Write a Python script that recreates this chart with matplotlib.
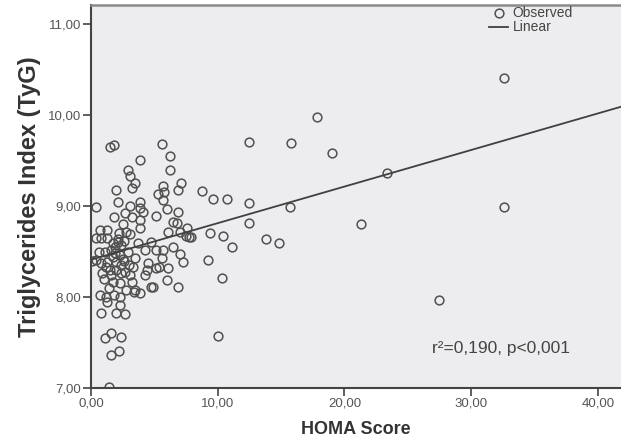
import matplotlib
matplotlib.use("Agg")
import matplotlib.pyplot as plt
from matplotlib.ticker import FuncFormatter
import numpy as np

plt.rcParams['font.family'] = ['Liberation Sans', 'DejaVu Sans']

# (HOMA score, TyG index)
homa = [
    32.6, 17.8, 15.8, 12.5, 19.0, 23.4, 15.7, 32.6, 21.3, 13.8, 14.8, 27.5, 10.0,
    12.5, 12.5, 11.1, 10.3, 10.4, 10.7, 9.6, 8.8, 9.4, 9.2,
    7.1, 6.9, 6.9, 6.8, 7.6, 7.0, 7.7, 7.9, 7.5, 7.0, 7.3, 6.9, 6.0, 5.6, 6.2,
    6.2, 5.7, 5.8, 5.3, 5.7, 6.0, 5.1, 6.1, 6.5, 5.7, 6.5, 5.1, 5.6, 5.4, 6.1,
    5.1, 4.9,
    3.9, 2.9, 3.1, 3.5, 3.2, 3.9, 3.1, 3.9, 4.1, 3.2, 3.9, 3.9, 3.1, 3.7, 4.7,
    4.3, 3.5, 3.3, 4.5, 3.1, 4.3, 3.2, 4.7, 3.5, 3.9, 4.4,
    1.5, 1.8, 2.0, 2.1, 2.7, 0.4, 0.7, 1.3, 0.8, 0.4, 1.3, 2.8, 1.7, 2.4, 1.6,
    1.7, 2.3, 0.4, 0.8, 1.3, 2.0, 2.4, 0.9, 1.6, 2.4, 1.7, 2.3, 2.8, 0.7, 1.2,
    2.3, 1.3, 2.3, 0.8, 2.0, 2.7, 1.6, 1.1, 2.4, 2.2, 1.6, 1.4,
    2.6, 1.9, 2.9, 2.0, 1.1, 2.2, 2.6, 1.8, 2.5, 1.5, 2.1,
    0.1, 1.0, 1.9, 2.5, 3.0, 1.4, 2.1, 2.7, 1.2, 3.4, 0.6, 1.8,
]
tyg = [
    10.41, 9.98, 9.69, 9.70, 9.58, 9.36, 8.99, 8.99, 8.80, 8.64, 8.59, 7.97, 7.57,
    9.03, 8.81, 8.55, 8.21, 8.67, 9.08, 9.08, 9.16, 8.70, 8.41,
    9.25, 9.18, 8.93, 8.81, 8.76, 8.71, 8.66, 8.66, 8.67, 8.47, 8.38, 8.11, 8.19, 9.68, 9.55,
    9.40, 9.22, 9.15, 9.13, 9.07, 8.97, 8.89, 8.71, 8.82, 8.52, 8.55, 8.52, 8.43, 8.33, 8.32,
    8.32, 8.11,
    9.51, 9.40, 9.33, 9.25, 9.20, 9.04, 9.00, 8.98, 8.94, 8.88, 8.85, 8.76, 8.69, 8.59, 8.60,
    8.52, 8.43, 8.33, 8.37, 8.24, 8.24, 8.16, 8.11, 8.08, 8.04, 8.30,
    9.65, 9.67, 9.18, 9.05, 8.92, 8.99, 8.74, 8.74, 8.65, 8.65, 8.65, 8.71, 8.59, 8.57, 8.52,
    8.44, 8.46, 8.41, 8.37, 8.38, 8.38, 8.35, 8.26, 8.24, 8.26, 8.16, 8.15, 8.08, 8.02, 8.00,
    8.00, 7.95, 7.91, 7.82, 7.82, 7.81, 7.60, 7.55, 7.56, 7.41, 7.36, 7.01,
    8.62, 8.48, 8.50, 8.30, 8.50, 8.70, 8.40, 8.88, 8.80, 8.30, 8.60,
    8.40, 8.20, 8.55, 8.42, 8.35, 8.10, 8.64, 8.28, 8.33, 8.05, 8.50, 8.02,
]

# linear fit as drawn in the chart
fit_intercept = 8.41
fit_slope = 0.0402
r2_text = 'r²=0,190, p<0,001'

x_ticks = [0, 10, 20, 30, 40]
y_ticks = [7, 8, 9, 10, 11]

fig = plt.figure(figsize=(6.21, 4.41), dpi=100)
ax = fig.add_axes([91 / 621, 53 / 441, 530 / 621, 383 / 441])
ax.set_facecolor('#ededef')

ax.plot(homa, tyg, 'o', ms=6.3, mfc='none', mec='#505050', mew=1.1, label='Observed')

xfit = np.array([0, 41.83])
ax.plot(xfit, fit_intercept + fit_slope * xfit, color='#404040', lw=1.3, label='Linear')

ax.set_xlim(0, 41.83)
ax.set_ylim(7, 11.21)
ax.set_xticks(x_ticks)
ax.set_yticks(y_ticks)
comma = FuncFormatter(lambda v, p: f'{v:.2f}'.replace('.', ','))
ax.xaxis.set_major_formatter(comma)
ax.yaxis.set_major_formatter(comma)
ax.tick_params(direction='out', length=6, width=1.2, color='#444444',
               labelsize=9.5, labelcolor='#555555', pad=1)

for s in ['left', 'bottom']:
    ax.spines[s].set_color('#444444')
    ax.spines[s].set_linewidth(1.5)
ax.spines['top'].set_color('#8a8a8a')
ax.spines['top'].set_linewidth(1.8)
ax.spines['right'].set_visible(False)

ax.set_xlabel('HOMA Score', fontsize=13, fontweight='bold', color='#333333', labelpad=8)
ax.set_ylabel('Triglycerides Index (TyG)', fontsize=17, fontweight='bold',
              color='#333333', labelpad=5)

ax.legend(loc='upper left', bbox_to_anchor=(0.735, 1.018), frameon=False, fontsize=10,
          handlelength=1.4, handletextpad=0.3, labelspacing=0.0, borderpad=0.1,
          labelcolor='#444444')

ax.text(0.774, 0.102, r2_text, transform=ax.transAxes, ha='center', va='center',
        fontsize=12.5, color='#444444')

fig.savefig('out.png', dpi=100)
